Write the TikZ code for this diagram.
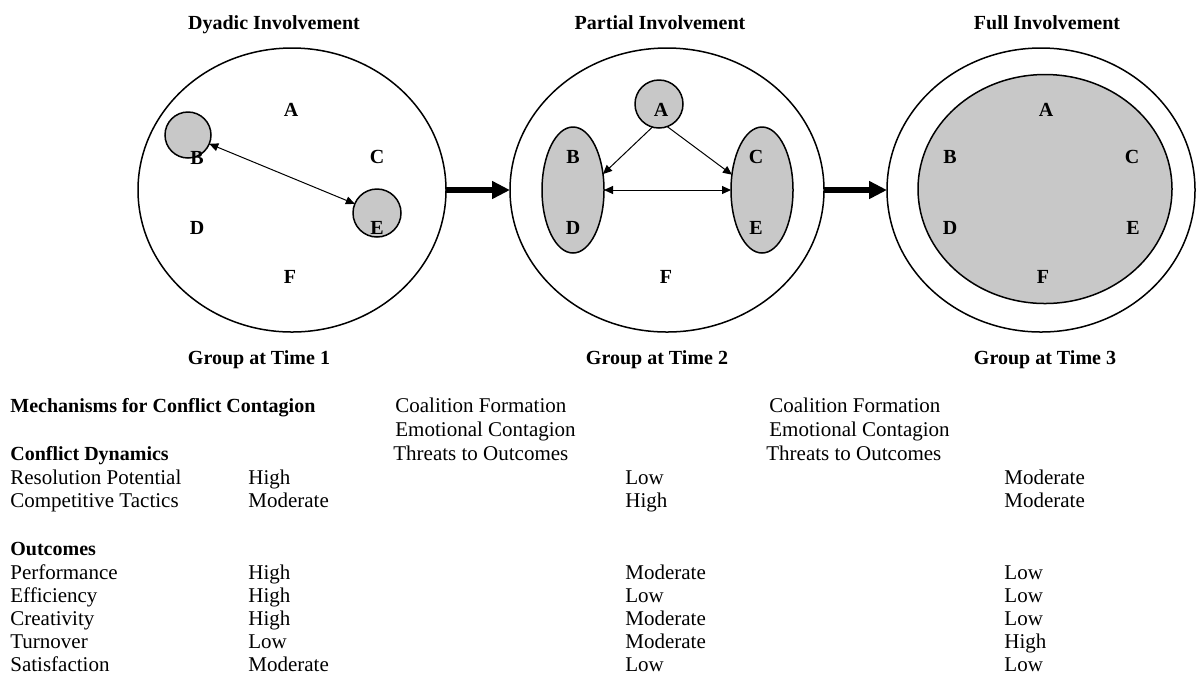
\documentclass[tikz,border=0pt]{standalone}
\usepackage{fontspec}
\setmainfont{Liberation Serif}
\usetikzlibrary{shapes.geometric,arrows.meta}
\definecolor{memberfill}{RGB}{200,200,200}
\tikzset{
  grpring/.style={draw, ellipse, line width=0.75pt, inner sep=0pt, outer sep=0pt},
  subgroup/.style={draw, fill=memberfill, line width=0.75pt, inner sep=0pt, outer sep=0pt},
  member/.style={font=\bfseries},
  heading/.style={font=\bfseries, anchor=base},
  cell/.style={anchor=base west, inner sep=0pt},
  boldcell/.style={cell, font=\bfseries},
  tie/.style={line width=0.5pt, >={Triangle[length=4.5pt,width=4pt]}},
  contagion/.style={-{Triangle[length=9pt,width=8.5pt]}, line width=3pt},
}
\begin{document}
\begin{tikzpicture}[x=0.5pt, y=-0.5pt, font=\fontsize{10.5pt}{12pt}\selectfont]
  \useasboundingbox (0,0) rectangle (1197,677);
  % headings
  \path
    (274,29) node[heading] (h1) {Dyadic Involvement}
    (660,29) node[heading] (h2) {Partial Involvement}
    (1047,29) node[heading] (h3) {Full Involvement}
    (259,364) node[heading] (t1) {Group at Time 1}
    (657,364) node[heading] (t2) {Group at Time 2}
    (1045,364) node[heading] (t3) {Group at Time 3};
  % the three groups
  \path
    (292,190) node[grpring, minimum width=154pt, minimum height=142pt] (grp1) {}
    (667,190) node[grpring, minimum width=157pt, minimum height=142pt] (grp2) {}
    (1041,190) node[grpring, minimum width=154pt, minimum height=142pt] (grp3) {};
  % shaded subgroups
  \path
    (188,135) node[subgroup, circle, minimum size=23pt] (g1b) {}
    (377,213) node[subgroup, circle, minimum size=24pt] (g1e) {}
    (659,104) node[subgroup, circle, minimum size=24pt] (g2a) {}
    (573,190) node[subgroup, ellipse, minimum width=31pt, minimum height=63pt] (g2bd) {}
    (762,190) node[subgroup, ellipse, minimum width=31pt, minimum height=63pt] (g2ce) {}
    (1045,189) node[subgroup, ellipse, minimum width=127pt, minimum height=114.5pt] (g3all) {};
  % members
  \path
    (291,110) node[member] (a1) {A}
    (197,158) node[member] (b1) {B}
    (377,157) node[member] (c1) {C}
    (197,228) node[member] (d1) {D}
    (377,228) node[member] (e1) {E}
    (290,277) node[member] (f1) {F}
    (661,110) node[member] (a2) {A}
    (573,157) node[member] (b2) {B}
    (756,157) node[member] (c2) {C}
    (573,228) node[member] (d2) {D}
    (756,228) node[member] (e2) {E}
    (666,277) node[member] (f2) {F}
    (1046,110) node[member] (a3) {A}
    (950,157) node[member] (b3) {B}
    (1132,157) node[member] (c3) {C}
    (950,228) node[member] (d3) {D}
    (1133,228) node[member] (e3) {E}
    (1043,277) node[member] (f3) {F};
  \begin{scope}[tie]
    \draw[<->] (g1b) to (g1e);
    \draw[->] (g2a.254) to (g2bd.28);
    \draw[->] (g2a.290) to (g2ce.153);
    \draw[<->] (g2bd.east) to (g2ce.west);
  \end{scope}
  \draw[contagion] (grp1.east) -- (grp2.west);
  \draw[contagion] (grp2.east) -- (grp3.west);
  % table below
  \path
    (10,412) node[boldcell] (mech) {Mechanisms for Conflict Contagion}
    (395,412) node[cell] (coal1) {Coalition Formation}
    (395,436) node[cell] (emo1) {Emotional Contagion}
    (393,460) node[cell] (thr1) {Threats to Outcomes}
    (769,412) node[cell] (coal2) {Coalition Formation}
    (769,436) node[cell] (emo2) {Emotional Contagion}
    (766,460) node[cell] (thr2) {Threats to Outcomes}
    (10,460) node[boldcell] (dyn) {Conflict Dynamics}
    (10,484) node[cell] (res) {Resolution Potential}
    (10,507) node[cell] (comp) {Competitive Tactics}
    (10,555) node[boldcell] (out) {Outcomes}
    (10,579) node[cell] (perf) {Performance}
    (10,602) node[cell] (eff) {Efficiency}
    (10,625) node[cell] (cre) {Creativity}
    (10,648) node[cell] (turn) {Turnover}
    (10,671) node[cell] (sat) {Satisfaction};
  \path
    (248,484) node[cell] (res1) {High}
    (248,507) node[cell] (comp1) {Moderate}
    (248,579) node[cell] (perf1) {High}
    (248,602) node[cell] (eff1) {High}
    (248,625) node[cell] (cre1) {High}
    (248,648) node[cell] (turn1) {Low}
    (248,671) node[cell] (sat1) {Moderate}
    (625,484) node[cell] (res2) {Low}
    (625,507) node[cell] (comp2) {High}
    (625,579) node[cell] (perf2) {Moderate}
    (625,602) node[cell] (eff2) {Low}
    (625,625) node[cell] (cre2) {Moderate}
    (625,648) node[cell] (turn2) {Moderate}
    (625,671) node[cell] (sat2) {Low}
    (1004,484) node[cell] (res3) {Moderate}
    (1004,507) node[cell] (comp3) {Moderate}
    (1004,579) node[cell] (perf3) {Low}
    (1004,602) node[cell] (eff3) {Low}
    (1004,625) node[cell] (cre3) {Low}
    (1004,648) node[cell] (turn3) {High}
    (1004,671) node[cell] (sat3) {Low};
\end{tikzpicture}
\end{document}
